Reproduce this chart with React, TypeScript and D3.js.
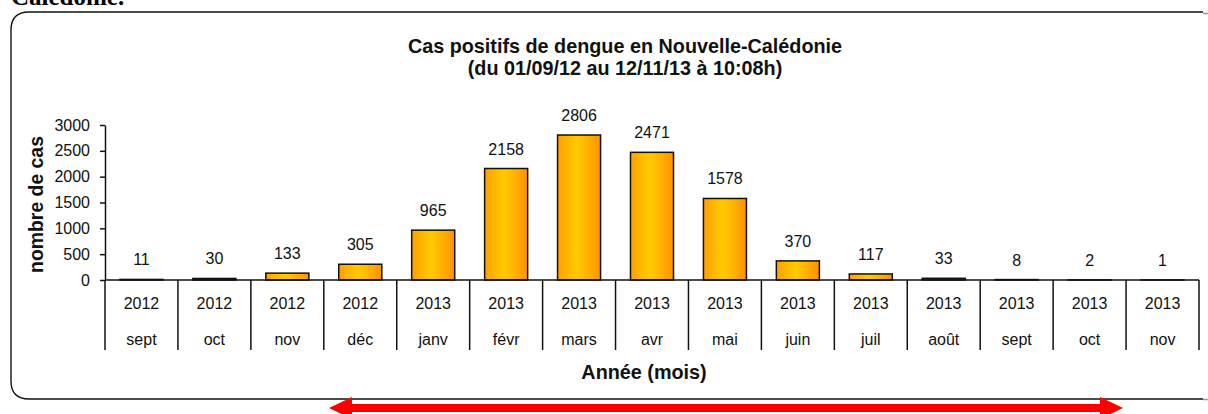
import { useRef, useEffect } from 'react';
import * as d3 from 'd3';

const years = ['2012', '2012', '2012', '2012', '2013', '2013', '2013', '2013', '2013', '2013', '2013', '2013', '2013', '2013', '2013'];
const months = ['sept', 'oct', 'nov', 'déc', 'janv', 'févr', 'mars', 'avr', 'mai', 'juin', 'juil', 'août', 'sept', 'oct', 'nov'];
const cases = [11, 30, 133, 305, 965, 2158, 2806, 2471, 1578, 370, 117, 33, 8, 2, 1];
const yTicks = [0, 500, 1000, 1500, 2000, 2500, 3000];

const W = 1208;
const H = 414;
const FONT = 'Arial, "Liberation Sans", sans-serif';

export default function App() {
  const svgRef = useRef<SVGSVGElement>(null);

  useEffect(() => {
    const svg = d3.select(svgRef.current);
    svg.selectAll('*').remove();

    const left = 105;
    const right = 1199;
    const top = 125;
    const bottom = 280;

    const idx = cases.map((_, i) => String(i));
    const x = d3.scaleBand<string>().domain(idx).range([left, right]).paddingInner(0.41).paddingOuter(0.205);
    const y = d3.scaleLinear().domain([0, 3000]).range([bottom, top]);
    const step = x.step();

    // gradient for the bars
    const defs = svg.append('defs');
    const grad = defs.append('linearGradient').attr('id', 'barGrad').attr('x1', 0).attr('x2', 1).attr('y1', 0).attr('y2', 0);
    grad.append('stop').attr('offset', '0%').attr('stop-color', '#ff9f00');
    grad.append('stop').attr('offset', '45%').attr('stop-color', '#ffcc00');
    grad.append('stop').attr('offset', '100%').attr('stop-color', '#ff9200');

    // header text cut off at the top of the page
    svg.append('text')
      .attr('x', 11)
      .attr('y', 5)
      .attr('font-family', '"Times New Roman", "Liberation Serif", serif')
      .attr('font-weight', 700)
      .attr('font-size', 25)
      .text('Calédonie.');

    // rounded frame (right side runs off the page)
    svg.append('path')
      .attr('d', 'M1203,12 H29 Q11,12 11,30 V381 Q11,399 29,399 H1203')
      .attr('fill', 'none')
      .attr('stroke', '#111')
      .attr('stroke-width', 1.4);
    svg.append('path')
      .attr('d', 'M1203,13.5 H1208 M1203,399.5 H1208')
      .attr('stroke', '#999')
      .attr('stroke-width', 1.5);

    // title
    const title = svg.append('text')
      .attr('text-anchor', 'middle')
      .attr('font-family', FONT)
      .attr('font-weight', 700)
      .attr('font-size', 19.8)
      .attr('fill', '#111');
    title.append('tspan').attr('x', 625).attr('y', 53).text('Cas positifs de dengue en Nouvelle-Calédonie');
    title.append('tspan').attr('x', 625).attr('y', 75).text('(du 01/09/12 au 12/11/13 à 10:08h)');

    // y axis
    const yAxis = svg.append('g')
      .attr('transform', `translate(${left},0)`)
      .call(d3.axisLeft(y).tickValues(yTicks).tickFormat(d3.format('d')).tickSize(5).tickPadding(10).tickSizeOuter(0));
    yAxis.select('.domain').attr('stroke', '#111').attr('stroke-width', 1.5);
    yAxis.selectAll('.tick line').attr('stroke', '#111').attr('stroke-width', 1.5);
    yAxis.selectAll('.tick text')
      .attr('font-family', FONT)
      .attr('font-size', 16)
      .attr('fill', '#111');

    svg.append('text')
      .attr('transform', `translate(43,${(top + bottom) / 2 + 2}) rotate(-90)`)
      .attr('text-anchor', 'middle')
      .attr('font-family', FONT)
      .attr('font-weight', 700)
      .attr('font-size', 19.4)
      .attr('fill', '#111')
      .text('nombre de cas');

    // bars
    svg.append('g')
      .selectAll('rect')
      .data(cases)
      .join('rect')
      .attr('x', (_, i) => x(String(i))!)
      .attr('width', x.bandwidth())
      .attr('y', (d) => y(d))
      .attr('height', (d) => y(0) - y(d))
      .attr('fill', 'url(#barGrad)')
      .attr('stroke', '#111')
      .attr('stroke-width', 1.5);

    // value labels
    svg.append('g')
      .selectAll('text')
      .data(cases)
      .join('text')
      .attr('x', (_, i) => x(String(i))! + x.bandwidth() / 2)
      .attr('y', (d) => y(d) - 14)
      .attr('text-anchor', 'middle')
      .attr('font-family', FONT)
      .attr('font-size', 16)
      .attr('fill', '#111')
      .text((d) => d);

    // category table below the axis
    const table = svg.append('g');
    table.append('line')
      .attr('x1', left)
      .attr('x2', right)
      .attr('y1', bottom)
      .attr('y2', bottom)
      .attr('stroke', '#111')
      .attr('stroke-width', 1.5);
    const bounds = d3.range(cases.length + 1).map((i) => left + i * step);
    table.selectAll('line.div')
      .data(bounds)
      .join('line')
      .attr('class', 'div')
      .attr('x1', (d) => d)
      .attr('x2', (d) => d)
      .attr('y1', bottom)
      .attr('y2', 350)
      .attr('stroke', '#111')
      .attr('stroke-width', 1.5);
    table.selectAll('text.yr')
      .data(years)
      .join('text')
      .attr('class', 'yr')
      .attr('x', (_, i) => x(String(i))! + x.bandwidth() / 2)
      .attr('y', 309)
      .attr('text-anchor', 'middle')
      .attr('font-family', FONT)
      .attr('font-size', 16)
      .attr('fill', '#111')
      .text((d) => d);
    table.selectAll('text.mo')
      .data(months)
      .join('text')
      .attr('class', 'mo')
      .attr('x', (_, i) => x(String(i))! + x.bandwidth() / 2)
      .attr('y', 345)
      .attr('text-anchor', 'middle')
      .attr('font-family', FONT)
      .attr('font-size', 16)
      .attr('fill', '#111')
      .text((d) => d);

    svg.append('text')
      .attr('x', 644)
      .attr('y', 379)
      .attr('text-anchor', 'middle')
      .attr('font-family', FONT)
      .attr('font-weight', 700)
      .attr('font-size', 19.8)
      .attr('fill', '#111')
      .text('Année (mois)');

    // red double arrow under the frame
    svg.append('path')
      .attr('d', 'M329,408 L352,397 L352,404 L1100,404 L1100,397 L1123,408 L1100,419 L1100,412 L352,412 L352,419 Z')
      .attr('fill', '#ff0000');
  }, []);

  return (
    <svg
      ref={svgRef}
      width={W}
      height={H}
      style={{ position: 'absolute', left: 0, top: 0, background: '#fff' }}
    />
  );
}
